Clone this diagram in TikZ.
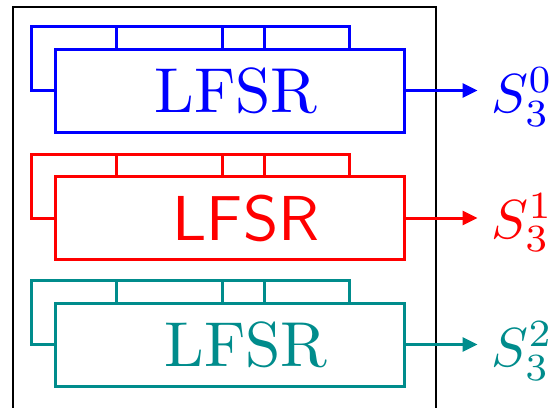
\documentclass[tikz,border=0pt]{standalone}
\usepackage{fontspec}
\usepackage{graphicx}
\usetikzlibrary{calc,arrows.meta}
\definecolor{tealc}{RGB}{0,140,140}
\newcommand{\biglbl}[1]{\scalebox{5.5}{$#1$}}
\newcommand{\bigword}[1]{\scalebox{6.35}{#1}}
\begin{document}
\begin{tikzpicture}[x=1pt,y=-1pt,
  lfsrbox/.style={draw,line width=3pt,minimum width=349pt,minimum height=83pt,inner sep=0pt},
  bigtext/.style={inner sep=0pt},
  outlbl/.style={inner sep=0pt,anchor=base west},
  wire/.style={line width=3pt},
  outarrow/.style={line width=3pt,-{Triangle[length=15pt,width=14pt]},shorten >=14pt}]
\useasboundingbox (0,0) rectangle (553,407);
\draw[line width=2pt] (12.5,7) rectangle (436,430);

% blue unit
\node[lfsrbox,blue] (b0) at (229.5,90.5) {};
\node[bigtext,blue] (t0) at ($(b0.center)+(6.5,0)$) {\bigword{LFSR}};
\draw[wire,blue] (b0.west) -- ++(-22,0) |- ($(b0.north west)+(296,-21)$) -- ($(b0.north west)+(296,0)$);
\foreach \dx in {63,169,211} \draw[wire,blue] ($(b0.north west)+(\dx,0)$) -- ++(0,-21);
\node[outlbl,blue] (s0) at ($(b0.east)+(86,22)$) {\biglbl{S_3^0}};
\draw[outarrow,blue] (b0.east) -- (b0.east -| s0.west);

% red unit
\node[lfsrbox,red] (b1) at (229.5,218) {};
\node[bigtext,red] (t1) at ($(b1.center)+(16.5,0)$) {\bigword{\sffamily LFSR}};
\draw[wire,red] (b1.west) -- ++(-22,0) |- ($(b1.north west)+(296,-21)$) -- ($(b1.north west)+(296,0)$);
\foreach \dx in {63,169,211} \draw[wire,red] ($(b1.north west)+(\dx,0)$) -- ++(0,-21);
\node[outlbl,red] (s1) at ($(b1.east)+(86,20)$) {\biglbl{S_3^1}};
\draw[outarrow,red] (b1.east) -- (b1.east -| s1.west);

% teal unit
\node[lfsrbox,tealc] (b2) at (229.5,344.5) {};
\node[bigtext,tealc] (t2) at ($(b2.center)+(16.5,0)$) {\bigword{LFSR}};
\draw[wire,tealc] (b2.west) -- ++(-22,0) |- ($(b2.north west)+(296,-21)$) -- ($(b2.north west)+(296,0)$);
\foreach \dx in {63,169,211} \draw[wire,tealc] ($(b2.north west)+(\dx,0)$) -- ++(0,-21);
\node[outlbl,tealc] (s2) at ($(b2.east)+(86,22)$) {\biglbl{S_3^2}};
\draw[outarrow,tealc] (b2.east) -- (b2.east -| s2.west);
\end{tikzpicture}
\end{document}
